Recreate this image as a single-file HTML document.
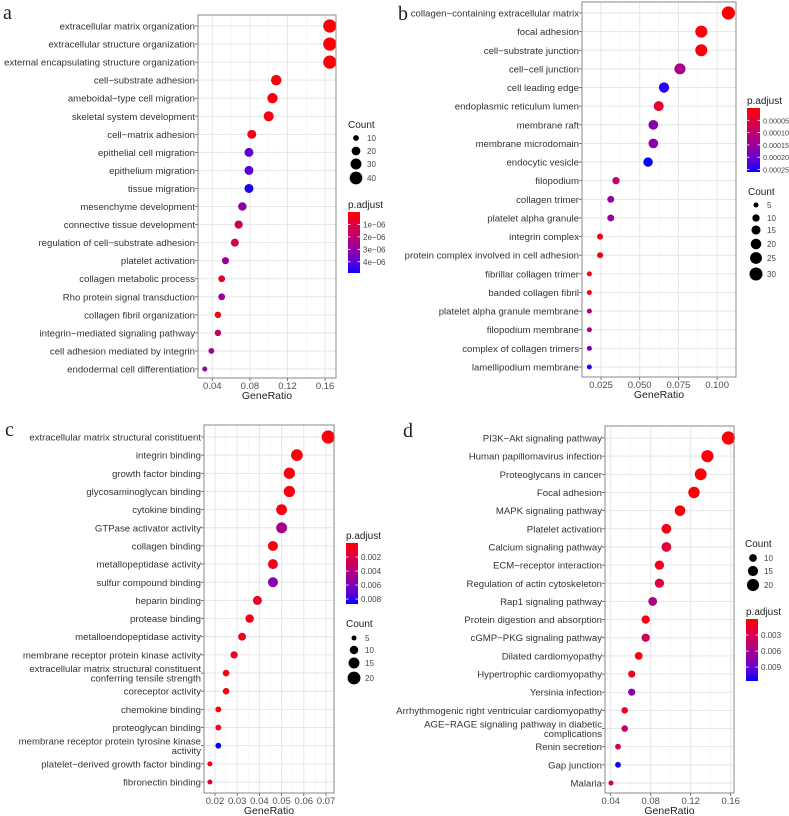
<!DOCTYPE html>
<html><head><meta charset="utf-8">
<style>
html,body{margin:0;padding:0;background:#fff;}
svg{display:block;font-family:"Liberation Sans",sans-serif;}
</style></head>
<body>
<svg id="fig" width="789" height="816" viewBox="0 0 789 816" xmlns="http://www.w3.org/2000/svg">
<text x="3" y="19" font-family="Liberation Serif,serif" font-size="20" fill="#222">a</text>
<text x="398" y="20" font-family="Liberation Serif,serif" font-size="20" fill="#222">b</text>
<text x="5" y="436" font-family="Liberation Serif,serif" font-size="20" fill="#222">c</text>
<text x="403" y="437" font-family="Liberation Serif,serif" font-size="20" fill="#222">d</text>
</svg>
<script>
// ---- Panel a data ----
const aTerms=["extracellular matrix organization","extracellular structure organization","external encapsulating structure organization","cell−substrate adhesion","ameboidal−type cell migration","skeletal system development","cell−matrix adhesion","epithelial cell migration","epithelium migration","tissue migration","mesenchyme development","connective tissue development","regulation of cell−substrate adhesion","platelet activation","collagen metabolic process","Rho protein signal transduction","collagen fibril organization","integrin−mediated signaling pathway","cell adhesion mediated by integrin","endodermal cell differentiation"];
const aRatio=[0.165,0.165,0.165,0.108,0.104,0.100,0.082,0.079,0.079,0.079,0.072,0.068,0.064,0.054,0.050,0.050,0.046,0.046,0.039,0.032];
const aCount=[43,43,43,28,27,26,21,21,21,21,19,18,17,14,13,13,12,12,10,8];
const aP=[0.1e-6,0.1e-6,0.1e-6,0.2e-6,0.2e-6,0.3e-6,0.3e-6,4.0e-6,4.0e-6,4.8e-6,3.0e-6,1.5e-6,1.3e-6,2.8e-6,0.8e-6,2.8e-6,0.3e-6,1.8e-6,2.6e-6,3.0e-6];
const aTicks=[0.04,0.08,0.12,0.16];
const aTickLabels=["0.04","0.08","0.12","0.16"];
const aCountLegend=[10,20,30,40];
const aPLegend=[1e-6,2e-6,3e-6,4e-6];
const aPLegendLabels=["1e−06","2e−06","3e−06","4e−06"];

// ---- Panel b data ----
const bTerms=["collagen−containing extracellular matrix","focal adhesion","cell−substrate junction","cell−cell junction","cell leading edge","endoplasmic reticulum lumen","membrane raft","membrane microdomain","endocytic vesicle","filopodium","collagen trimer","platelet alpha granule","integrin complex","protein complex involved in cell adhesion","fibrillar collagen trimer","banded collagen fibril","platelet alpha granule membrane","filopodium membrane","complex of collagen trimers","lamellipodium membrane"];
const bRatio=[0.1073,0.0898,0.0898,0.076,0.0657,0.0623,0.0588,0.0588,0.0554,0.0347,0.0313,0.0313,0.0244,0.0244,0.0175,0.0175,0.0175,0.0175,0.0175,0.0175];
const bCount=[31,26,26,22,19,18,17,17,16,10,9,9,7,7,5,5,5,5,5,5];
const bP=[0.000003,0.000005,0.000005,0.00013,0.00025,0.00004,0.00017,0.00017,0.00026,0.0001,0.00015,0.00015,0.00002,0.00002,0.00001,0.00001,0.00011,0.00012,0.00019,0.00024];
const bTicks=[0.025,0.05,0.075,0.1];
const bTickLabels=["0.025","0.050","0.075","0.100"];
const bCountLegend=[5,10,15,20,25,30];
const bPLegend=[0.00005,0.0001,0.00015,0.0002,0.00025];
const bPLegendLabels=["0.00005","0.00010","0.00015","0.00020","0.00025"];

// ---- Panel c data ----
const cTerms=["extracellular matrix structural constituent","integrin binding","growth factor binding","glycosaminoglycan binding","cytokine binding","GTPase activator activity","collagen binding","metallopeptidase activity","sulfur compound binding","heparin binding","protease binding","metalloendopeptidase activity","membrane receptor protein kinase activity","extracellular matrix structural constituent\nconferring tensile strength","coreceptor activity","chemokine binding","proteoglycan binding","membrane receptor protein tyrosine kinase\nactivity","platelet−derived growth factor binding","fibronectin binding"];
const cRatio=[0.071,0.0569,0.0535,0.0535,0.050,0.050,0.0461,0.0461,0.0461,0.0391,0.0356,0.0322,0.0286,0.025,0.025,0.0215,0.0215,0.0215,0.0177,0.0177];
const cCount=[21,17,16,16,15,15,13,13,13,11,10,9,8,7,7,6,6,6,5,5];
const cP=[0.0002,0.0002,0.0003,0.0004,0.0003,0.0045,0.0003,0.0008,0.0058,0.001,0.0007,0.0007,0.001,0.0005,0.0004,0.0004,0.0006,0.0087,0.0003,0.0015];
const cTicks=[0.02,0.03,0.04,0.05,0.06,0.07];
const cTickLabels=["0.02","0.03","0.04","0.05","0.06","0.07"];
const cCountLegend=[5,10,15,20];
const cPLegend=[0.002,0.004,0.006,0.008];
const cPLegendLabels=["0.002","0.004","0.006","0.008"];

// ---- Panel d data ----
const dTerms=["PI3K−Akt signaling pathway","Human papillomavirus infection","Proteoglycans in cancer","Focal adhesion","MAPK signaling pathway","Platelet activation","Calcium signaling pathway","ECM−receptor interaction","Regulation of actin cytoskeleton","Rap1 signaling pathway","Protein digestion and absorption","cGMP−PKG signaling pathway","Dilated cardiomyopathy","Hypertrophic cardiomyopathy","Yersinia infection","Arrhythmogenic right ventricular cardiomyopathy","AGE−RAGE signaling pathway in diabetic\ncomplications","Renin secretion","Gap junction","Malaria"];
const dRatio=[0.1577,0.1367,0.130,0.1233,0.1093,0.0957,0.0957,0.0887,0.0887,0.082,0.075,0.075,0.068,0.061,0.061,0.054,0.054,0.0473,0.0473,0.0403];
const dCount=[23,20,19,18,16,14,14,13,13,12,11,11,10,9,9,8,8,7,7,6];
const dP=[0.0002,0.0002,0.0002,0.0002,0.0003,0.0008,0.0022,0.001,0.0025,0.0055,0.0006,0.0035,0.0005,0.001,0.0075,0.0012,0.0042,0.003,0.0115,0.0035];
const dTicks=[0.04,0.08,0.12,0.16];
const dTickLabels=["0.04","0.08","0.12","0.16"];
const dCountLegend=[10,15,20];
const dPLegend=[0.003,0.006,0.009];
const dPLegendLabels=["0.003","0.006","0.009"];

const NS="http://www.w3.org/2000/svg";
const svg=document.getElementById('fig');
function mk(tag,attrs,parent){const e=document.createElementNS(NS,tag);for(const k in attrs)e.setAttribute(k,attrs[k]);(parent||svg).appendChild(e);return e;}
function col(t){t=Math.max(0,Math.min(1,t));const r=Math.round(255*Math.pow(1-t,0.6)),b=Math.round(255*Math.pow(t,0.9));return `rgb(${r},0,${b})`;}

const panels=[
 {id:'a',terms:aTerms,ratio:aRatio,count:aCount,p:aP,ticks:aTicks,tl:aTickLabels,cl:aCountLegend,pl:aPLegend,pll:aPLegendLabels,
  box:[198,15,336,378],y0:26,y1:369,x0:212.3,v0:0.04,xs:37.6/0.04,pmax:4.9e-6,labX:195,
  countT:125,countX:356,countY:[138,151,164,178],pT:205,bar:[348,212,360,273]},
 {id:'b',terms:bTerms,ratio:bRatio,count:bCount,p:bP,ticks:bTicks,tl:bTickLabels,cl:bCountLegend,pl:bPLegend,pll:bPLegendLabels,
  box:[582,2,736,377],y0:13,y1:367,x0:601,v0:0.025,xs:38.7/0.025,pmax:0.00026,labX:579,
  countT:192,countX:756,countY:[205,218,230,244,258,274],pT:101,bar:[747,108,760,172]},
 {id:'c',terms:cTerms,ratio:cRatio,count:cCount,p:cP,ticks:cTicks,tl:cTickLabels,cl:cCountLegend,pl:cPLegend,pll:cPLegendLabels,
  box:[204,425,334,793],y0:437,y1:782,x0:215,v0:0.02,xs:2220,pmax:0.0087,labX:201,
  countT:624,countX:354,countY:[638,650,663,678],pT:536,bar:[346,543,358,604]},
 {id:'d',terms:dTerms,ratio:dRatio,count:dCount,p:dP,ticks:dTicks,tl:dTickLabels,cl:dCountLegend,pl:dPLegend,pll:dPLegendLabels,
  box:[605,426,734,793],y0:438,y1:783,x0:610.7,v0:0.04,xs:1000,pmax:0.0116,labX:602,
  countT:544,countX:753,countY:[558,571,585],pT:612,bar:[746,619,758,681]}
];

panels.forEach(P=>{
  const [bx0,by0,bx1,by1]=P.box;
  const n=P.terms.length;
  const yOf=i=>P.y0+(P.y1-P.y0)*i/(n-1);
  const xOf=v=>P.x0+(v-P.v0)*P.xs;
  const cmin=Math.min(...P.count),cmax=Math.max(...P.count);
  const r0=2.5,r1=6.6;
  const rOf=c=>Math.sqrt(r0*r0+(r1*r1-r0*r0)*Math.max(0,(c-cmin))/(cmax-cmin||1));
  const g=mk('g',{});
  
  
  mk('rect',{x:bx0,y:by0,width:bx1-bx0,height:by1-by0,fill:'#fff'},g);
  const step=P.ticks[1]-P.ticks[0];
  for(let v=P.ticks[0]-step/2;v<=P.ticks[P.ticks.length-1]+step;v+=step){const x=xOf(v);if(x>bx0&&x<bx1)mk('line',{x1:x,x2:x,y1:by0,y2:by1,stroke:'#f3f3f3','stroke-width':0.6},g);}
  P.ticks.forEach((v,k)=>{const x=xOf(v);
    mk('line',{x1:x,x2:x,y1:by0,y2:by1,stroke:'#e6e6e6','stroke-width':1},g);
    mk('line',{x1:x,x2:x,y1:by1,y2:by1+3,stroke:'#555','stroke-width':0.8},g);
    const t=mk('text',{x:x,y:by1+11,'font-size':9.5,fill:'#4d4d4d','text-anchor':'middle'},g);t.textContent=P.tl[k];
    
    
  });
  const xt=mk('text',{x:(bx0+bx1)/2,y:by1+21,'font-size':10.5,fill:'#222','text-anchor':'middle'},g);xt.textContent='GeneRatio';
  
  
  P.terms.forEach((term,i)=>{const y=yOf(i);
    mk('line',{x1:bx0,x2:bx1,y1:y,y2:y,stroke:'#e6e6e6','stroke-width':1},g);
    mk('line',{x1:bx0-3,x2:bx0,y1:y,y2:y,stroke:'#555','stroke-width':0.8},g);
    const lines=term.split('\n');
    lines.forEach((ln,j)=>{const yy=y+3.5+(j-(lines.length-1)/2)*9.5;
      const t=mk('text',{x:P.labX,y:yy,'font-size':9.6,fill:'#333','text-anchor':'end'},g);t.textContent=ln;
      
      });
  });
  P.ratio.forEach((v,i)=>{
    const c=mk('circle',{cx:xOf(v),cy:yOf(i),r:rOf(P.count[i]),fill:col(P.p[i]/P.pmax)},g);
    
    
  });
  mk('rect',{x:bx0,y:by0,width:bx1-bx0,height:by1-by0,fill:'none',stroke:'#888','stroke-width':1},g);
  const ct=mk('text',{x:P.countX-8,y:P.countT+3,'font-size':10,fill:'#222'},g);ct.textContent='Count';
  
  
  P.cl.forEach((c,k)=>{const y=P.countY[k];
    const d=mk('circle',{cx:P.countX,cy:y,r:rOf(c),fill:'#000'},g);
    
    
    const t=mk('text',{x:P.countX+11,y:y+3,'font-size':8,fill:'#444'},g);t.textContent=String(c);
    
    
  });
  const pt=mk('text',{x:P.bar[0],y:P.pT+3,'font-size':10,fill:'#222'},g);pt.textContent='p.adjust';
  
  
  const defs=mk('defs',{},g);
  const lg=mk('linearGradient',{id:'grad'+P.id,x1:0,y1:0,x2:0,y2:1},defs);
  for(let k=0;k<=10;k++)mk('stop',{offset:(k*10)+'%','stop-color':col(k/10)},lg);
  const [gx0,gy0,gx1,gy1]=P.bar;
  const bar=mk('rect',{x:gx0,y:gy0,width:gx1-gx0,height:gy1-gy0,fill:'url(#grad'+P.id+')'},g);
  
  
  const fs=P.id==='b'?7.2:8;
  P.pl.forEach((v,k)=>{const y=gy0+(gy1-gy0)*v/P.pmax;
    mk('line',{x1:gx0,x2:gx0+2.5,y1:y,y2:y,stroke:'#fff','stroke-width':0.8},g);
    mk('line',{x1:gx1-2.5,x2:gx1,y1:y,y2:y,stroke:'#fff','stroke-width':0.8},g);
    const t=mk('text',{x:gx1+3,y:y+3,'font-size':fs,fill:'#444'},g);t.textContent=P.pll[k];
    
    
  });
});
</script>
</body></html>
